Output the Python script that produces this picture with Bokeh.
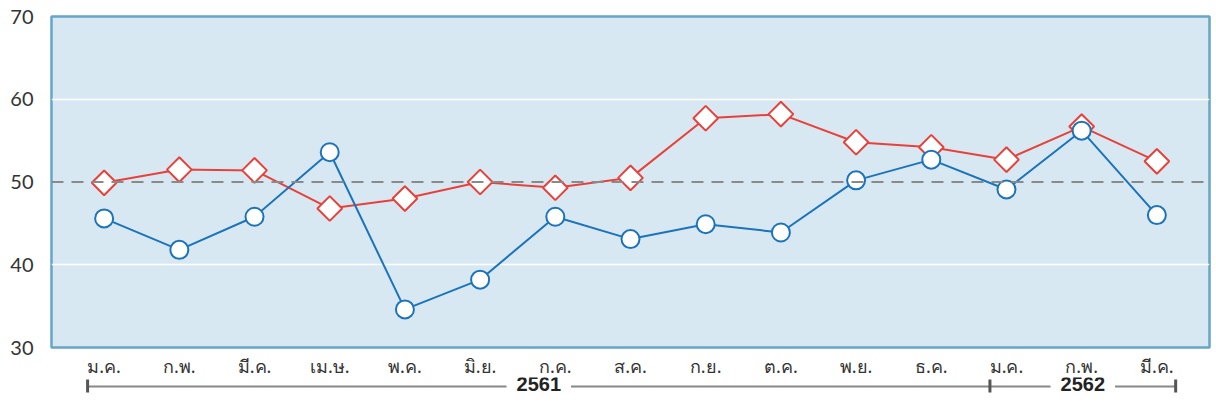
import numpy as np
from bokeh.plotting import figure
from bokeh.models import FixedTicker, Span, Label, Range1d, ColumnDataSource
from bokeh.layouts import column
from bokeh.embed import file_html
from bokeh.resources import INLINE

# ---- data ----
months = ["ม.ค.", "ก.พ.", "มี.ค.", "เม.ษ.", "พ.ค.", "มิ.ย.", "ก.ค.", "ส.ค.",
          "ก.ย.", "ต.ค.", "พ.ย.", "ธ.ค.", "ม.ค.", "ก.พ.", "มี.ค."]
years = ["2561", "2562"]
year_counts = [12, 3]
series_red = [49.9, 51.5, 51.4, 46.8, 48.0, 50.0, 49.3, 50.5, 57.7, 58.2, 54.8, 54.2, 52.7, 56.7, 52.5]
series_blue = [45.6, 41.8, 45.8, 53.6, 34.6, 38.2, 45.8, 43.1, 44.9, 43.9, 50.2, 52.7, 49.1, 56.2, 46.0]
y_ticks = [30, 40, 50, 60, 70]
ref_level = 50

RED = "#e8413a"
BLUE = "#1b74bb"
BG = "#d8e8f2"
FRAME = "#65a5c5"

x = list(range(len(months)))
src = ColumnDataSource(dict(x=x, red=series_red, blue=series_blue))

p = figure(frame_width=1158, frame_height=331, x_range=Range1d(-0.7, 14.7), y_range=Range1d(30, 70),
           output_backend="svg", toolbar_location=None, x_axis_location=None,
           min_border_left=51, min_border_right=6, min_border_top=16, min_border_bottom=12)
p.background_fill_color = BG
p.border_fill_color = "white"
p.outline_line_color = FRAME
p.outline_line_width = 2.5

p.xgrid.visible = False
p.ygrid.ticker = FixedTicker(ticks=[t for t in y_ticks if t not in (30, 70, ref_level)])
p.ygrid.grid_line_color = "white"
p.ygrid.grid_line_width = 1.5

p.yaxis.ticker = FixedTicker(ticks=y_ticks)
p.yaxis.axis_line_color = None
p.yaxis.major_tick_line_color = None
p.yaxis.major_tick_out = 0
p.yaxis.major_tick_in = 0
p.yaxis.minor_tick_line_color = None
p.yaxis.minor_tick_out = 0
p.yaxis.major_label_text_font = "Lato"
p.yaxis.major_label_text_font_size = "20px"
p.yaxis.major_label_text_color = "#333333"
p.yaxis.major_label_standoff = 18

p.add_layout(Span(location=ref_level, dimension="width", line_color="#8a8a8a",
                  line_width=2, line_dash="12 8"))

p.line("x", "red", source=src, line_color=RED, line_width=2)
p.scatter("x", "red", source=src, marker="square", size=17.5, angle=np.pi / 4,
          fill_color="white", line_color=RED, line_width=2)
p.line("x", "blue", source=src, line_color=BLUE, line_width=2)
p.scatter("x", "blue", source=src, marker="circle", size=18,
          fill_color="white", line_color=BLUE, line_width=2)

# ---- month labels + year brackets (overlaps the bottom margin of the chart) ----
q = figure(frame_width=1158, frame_height=26, x_range=p.x_range, y_range=Range1d(0, 1),
           output_backend="svg", toolbar_location=None,
           min_border_left=51, min_border_right=6, min_border_top=30, min_border_bottom=0,
           x_axis_location="above", y_axis_location=None, margin=(-12, 0, 0, 0))
q.outline_line_color = None
q.grid.visible = False
q.background_fill_alpha = 0
q.border_fill_alpha = 0

q.xaxis.ticker = FixedTicker(ticks=x)
q.xaxis.major_label_overrides = {i: m for i, m in zip(x, months)}
q.xaxis.axis_line_color = None
q.xaxis.major_tick_line_color = None
q.xaxis.major_tick_out = 0
q.xaxis.major_tick_in = 0
q.xaxis.minor_tick_line_color = None
q.xaxis.minor_tick_out = 0
q.xaxis.major_label_text_font = "Noto Sans"
q.xaxis.major_label_text_font_size = "18px"
q.xaxis.major_label_text_color = "#333333"
q.xaxis.major_label_standoff = 0

starts = list(np.cumsum([0] + year_counts[:-1]))
bounds = [s - 0.22 for s in starts] + [len(months) - 1 + 0.25]
q.segment(x0=[bounds[0]], x1=[bounds[-1]], y0=[0.654], y1=[0.654], line_color="#888888", line_width=2)
q.segment(x0=bounds, x1=bounds, y0=[0.42] * len(bounds), y1=[0.92] * len(bounds),
          line_color="#555555", line_width=3)
for i, yr in enumerate(years):
    mid = (bounds[i] + bounds[i + 1]) / 2
    q.add_layout(Label(x=mid, y=0.654, y_offset=2, text=yr, text_align="center", text_baseline="middle",
                       text_font="Liberation Sans", text_font_style="bold", text_font_size="20px",
                       text_color="#222222", background_fill_color="white", padding=10))

layout = column(p, q)
open("out.html", "w").write(file_html(layout, INLINE))
